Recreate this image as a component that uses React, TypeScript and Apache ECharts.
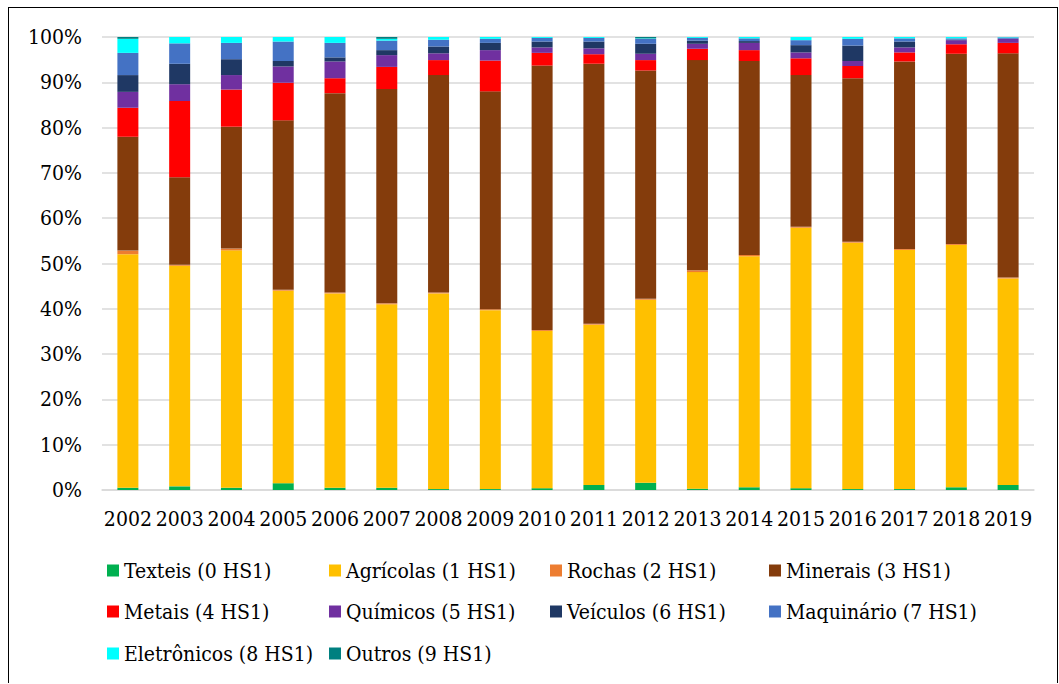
import React, { useEffect, useRef } from "react";
import * as echarts from "echarts";

const years = ["2002","2003","2004","2005","2006","2007","2008","2009","2010","2011","2012","2013","2014","2015","2016","2017","2018","2019"];
const yTicks = [0, 10, 20, 30, 40, 50, 60, 70, 80, 90, 100];

const texteis = [0.5, 0.8, 0.5, 1.5, 0.5, 0.5, 0.2, 0.2, 0.4, 1.1, 1.6, 0.3, 0.6, 0.4, 0.2, 0.2, 0.6, 1.1];
const agricolas = [51.5, 48.6, 52.4, 42.5, 42.9, 40.5, 43.2, 39.5, 34.7, 35.4, 40.4, 47.8, 51.0, 57.5, 54.4, 52.8, 53.5, 45.6];
const rochas = [0.8, 0.2, 0.4, 0.2, 0.2, 0.2, 0.2, 0.2, 0.2, 0.2, 0.2, 0.4, 0.3, 0.2, 0.2, 0.2, 0.2, 0.2];
const minerais = [25.1, 19.3, 26.9, 37.4, 44.0, 47.3, 48.0, 48.1, 58.4, 57.4, 50.4, 46.4, 42.8, 33.5, 36.1, 41.4, 42.0, 49.5];
const metais = [6.4, 16.8, 8.2, 8.3, 3.3, 4.9, 3.3, 6.8, 2.8, 2.1, 2.3, 2.5, 2.4, 3.7, 2.7, 2.0, 2.1, 2.3];
const quimicos = [3.5, 3.7, 3.2, 3.6, 3.7, 2.6, 1.5, 2.3, 1.2, 1.3, 1.4, 1.1, 1.6, 1.3, 1.1, 1.1, 0.9, 0.9];
const veiculos = [3.7, 4.5, 3.5, 1.2, 0.9, 1.1, 1.5, 1.6, 1.3, 1.5, 2.2, 0.7, 0.4, 1.6, 3.4, 1.3, 0.1, 0.0];
const maquinario = [4.9, 4.5, 3.6, 4.3, 3.2, 2.1, 1.5, 0.9, 0.8, 0.8, 1.1, 0.6, 0.6, 1.1, 1.5, 0.7, 0.3, 0.3];
const eletronicos = [3.1, 1.4, 1.3, 1.0, 1.3, 0.4, 0.6, 0.4, 0.2, 0.2, 0.1, 0.2, 0.3, 0.7, 0.4, 0.3, 0.3, 0.1];
const outros = [0.4, 0, 0, 0, 0, 0.4, 0, 0, 0, 0, 0.3, 0, 0, 0, 0, 0, 0, 0];

const seriesNames = [
  "Texteis (0 HS1)", "Agrícolas (1 HS1)", "Rochas (2 HS1)", "Minerais (3 HS1)", "Metais (4 HS1)",
  "Químicos (5 HS1)", "Veículos (6 HS1)", "Maquinário (7 HS1)", "Eletrônicos (8 HS1)", "Outros (9 HS1)",
];
const seriesValues = [texteis, agricolas, rochas, minerais, metais, quimicos, veiculos, maquinario, eletronicos, outros];
const seriesColors = ["#00B050", "#FFC000", "#ED7D31", "#843C0C", "#FF0000", "#7030A0", "#1F3864", "#4472C4", "#00FFFF", "#008080"];

const legendCols = [98, 320, 541, 760];
const legendRows = [552, 593, 635];
const legendPos = [
  [0, 0], [1, 0], [2, 0], [3, 0],
  [0, 1], [1, 1], [2, 1], [3, 1],
  [0, 2], [1, 2],
];

const FONT = "DejaVu Serif Condensed, DejaVu Serif, serif";
const FS = 21;

export default function App() {
  const ref = useRef<HTMLDivElement>(null);
  useEffect(() => {
    if (!ref.current) return;
    const chart = echarts.init(ref.current, undefined, { renderer: "svg" });
    const totals = years.map((_, i) => seriesValues.reduce((s, arr) => s + arr[i], 0));
    const series = seriesNames.map((name, k) => ({
      name,
      type: "bar" as const,
      stack: "total",
      barWidth: 21,
      itemStyle: { color: seriesColors[k] },
      data: seriesValues[k].map((v, i) => (v / totals[i]) * 100),
    }));
    const legends = seriesNames.map((name, k) => {
      const [c, r] = legendPos[k];
      const left = k === 9 ? 320 : legendCols[c];
      return {
        data: [name],
        left,
        top: legendRows[r],
        orient: "horizontal" as const,
        itemWidth: 12,
        itemHeight: 12,
        icon: "rect",
        padding: 0,
        selectedMode: false,
        textStyle: { fontFamily: FONT, fontSize: FS, color: "#000" },
      };
    });
    chart.setOption({
      animation: false,
      backgroundColor: "#fff",
      textStyle: { fontFamily: FONT },
      grid: { left: 93, right: 23, top: 29, bottom: 193 },
      xAxis: {
        type: "category",
        data: years,
        axisTick: { show: false },
        axisLine: { lineStyle: { color: "#d9d9d9", width: 1.5 } },
        axisLabel: { color: "#000", fontFamily: FONT, fontSize: FS, margin: 18, interval: 0 },
      },
      yAxis: {
        type: "value",
        min: yTicks[0],
        max: yTicks[yTicks.length - 1],
        interval: 10,
        axisLine: { show: false },
        axisTick: { show: false },
        splitLine: { lineStyle: { color: "#d9d9d9", width: 1.5 } },
        axisLabel: { color: "#000", fontFamily: FONT, fontSize: FS, margin: 20, formatter: "{value}%" },
      },
      legend: legends,
      series,
    });
    return () => chart.dispose();
  }, []);
  return (
    <div
      ref={ref}
      style={{
        width: 1050,
        height: 676,
        borderTop: "1px solid #000",
        borderLeft: "1px solid #000",
        borderRight: "1px solid #000",
        boxSizing: "border-box",
        position: "absolute",
        left: 8,
        top: 7,
      }}
    />
  );
}
